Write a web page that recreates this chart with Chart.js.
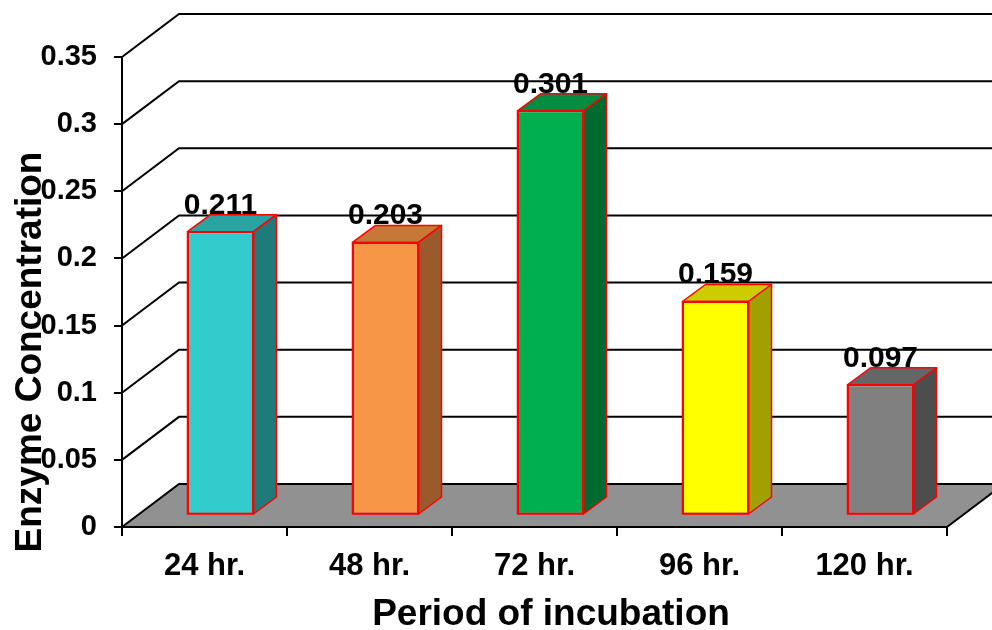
<!DOCTYPE html>
<html>
<head>
<meta charset="utf-8">
<script src="https://cdn.jsdelivr.net/npm/chart.js@4.4.1/dist/chart.umd.min.js"></script>
<style>
  html, body { margin: 0; padding: 0; background: #fff; overflow: hidden; }
  canvas { display: block; }
</style>
</head>
<body>
<canvas id="chart" width="992" height="630"></canvas>
<script>
// Enzyme concentration by incubation period
const periods = ['24 hr.', '48 hr.', '72 hr.', '96 hr.', '120 hr.'];
const enzymeConc = [0.211, 0.203, 0.301, 0.159, 0.097];
const yTickValues = [0, 0.05, 0.1, 0.15, 0.2, 0.25, 0.3, 0.35];
const yTickLabels = ['0', '0.05', '0.1', '0.15', '0.2', '0.25', '0.3', '0.35'];

// face colours of each box: front, top (lit) and side (shaded)
const frontColors = ['#33CCCC', '#F79646', '#00B050', '#FFFF00', '#808080'];
const topColors   = ['#29A3A3', '#C67838', '#008D40', '#CCCC00', '#666666'];
const sideColors  = ['#1F7A7A', '#9A5A2C', '#006A30', '#A0A000', '#4D4D4D'];

const FONT = '"Liberation Sans", Arial, Helvetica, sans-serif';
const WALL = { dx: 57, dy: -43 };      // depth of the back wall
const BAR_SHIFT = { dx: 16, dy: -12 }; // front faces of the boxes sit a little into the floor
const BAR_DEPTH = { dx: 23, dy: -17 }; // depth of each box

const box3d = {
  id: 'box3d',
  beforeDraw(chart) {
    const { ctx, chartArea: a, scales: { y } } = chart;
    ctx.save();
    ctx.fillStyle = '#fff';
    ctx.fillRect(0, 0, chart.width, chart.height);

    // floor
    const y0 = y.getPixelForValue(0);
    ctx.beginPath();
    ctx.moveTo(a.left, y0);
    ctx.lineTo(a.left + WALL.dx, y0 + WALL.dy);
    ctx.lineTo(a.right + WALL.dx, y0 + WALL.dy);
    ctx.lineTo(a.right, y0);
    ctx.closePath();
    ctx.fillStyle = '#919191';
    ctx.fill();

    ctx.strokeStyle = '#000';
    ctx.lineWidth = 2;
    ctx.beginPath();
    ctx.moveTo(a.right, y0);
    ctx.lineTo(a.right + WALL.dx, y0 + WALL.dy);
    ctx.stroke();

    // gridlines running along the side and back walls
    for (const v of yTickValues) {
      const py = y.getPixelForValue(v);
      ctx.beginPath();
      ctx.moveTo(a.left, py);
      ctx.lineTo(a.left + WALL.dx, py + WALL.dy);
      ctx.lineTo(a.right + WALL.dx + 20, py + WALL.dy);
      ctx.stroke();
    }
    ctx.restore();
  },
  beforeDatasetsDraw(chart) {
    chart.ctx.save();
    chart.ctx.translate(BAR_SHIFT.dx, BAR_SHIFT.dy);
  },
  afterDatasetsDraw(chart) {
    const ctx = chart.ctx;
    const meta = chart.getDatasetMeta(0);
    ctx.lineWidth = 1.5;
    ctx.strokeStyle = '#FF0000';
    ctx.lineJoin = 'round';
    meta.data.forEach((bar, i) => {
      const { x, y, base, width } = bar.getProps(['x', 'y', 'base', 'width'], true);
      const l = x - width / 2, r = x + width / 2;
      // top face
      ctx.beginPath();
      ctx.moveTo(l, y);
      ctx.lineTo(l + BAR_DEPTH.dx, y + BAR_DEPTH.dy);
      ctx.lineTo(r + BAR_DEPTH.dx, y + BAR_DEPTH.dy);
      ctx.lineTo(r, y);
      ctx.closePath();
      ctx.fillStyle = topColors[i];
      ctx.fill();
      ctx.stroke();
      // side face
      ctx.beginPath();
      ctx.moveTo(r, y);
      ctx.lineTo(r + BAR_DEPTH.dx, y + BAR_DEPTH.dy);
      ctx.lineTo(r + BAR_DEPTH.dx, base + BAR_DEPTH.dy);
      ctx.lineTo(r, base);
      ctx.closePath();
      ctx.fillStyle = sideColors[i];
      ctx.fill();
      ctx.stroke();
      // front outline
      ctx.strokeRect(l, y, width, base - y);
    });
    ctx.restore();
  },
  afterDraw(chart) {
    const ctx = chart.ctx;
    const meta = chart.getDatasetMeta(0);
    ctx.save();
    ctx.fillStyle = '#000';

    // value labels above the boxes
    ctx.font = 'bold 30px ' + FONT;
    ctx.textAlign = 'center';
    ctx.textBaseline = 'alphabetic';
    meta.data.forEach((bar, i) => {
      const { x, y } = bar.getProps(['x', 'y'], true);
      ctx.fillText(String(enzymeConc[i]), x + BAR_SHIFT.dx, y + BAR_SHIFT.dy - 18);
    });

    // axis titles
    ctx.font = 'bold 37px ' + FONT;
    ctx.fillText('Period of incubation', 551, 625);
    ctx.translate(41, 352);
    ctx.rotate(-Math.PI / 2);
    ctx.fillText('Enzyme Concentration', 0, 0);
    ctx.restore();
  }
};

new Chart(document.getElementById('chart'), {
  type: 'bar',
  data: {
    labels: periods,
    datasets: [{
      data: enzymeConc,
      backgroundColor: frontColors,
      borderColor: '#FF0000',
      borderWidth: 1.5,
      borderSkipped: false,
      barPercentage: 0.4,
      categoryPercentage: 1,
      clip: false
    }]
  },
  options: {
    responsive: false,
    devicePixelRatio: 1,
    animation: false,
    layout: { padding: { top: 57, right: 45, left: 0, bottom: 0 } },
    plugins: { legend: { display: false }, tooltip: { enabled: false } },
    scales: {
      x: {
        offset: true,
        grid: { offset: true, drawOnChartArea: false, drawTicks: true, tickLength: 9, color: '#000', lineWidth: 2 },
        border: { display: true, color: '#000', width: 2 },
        ticks: { color: '#000', padding: 12, font: { family: FONT, size: 31, weight: 'bold' } },
        afterFit(scale) { scale.height = 103; }
      },
      y: {
        min: 0,
        max: 0.35,
        afterBuildTicks(scale) { scale.ticks = yTickValues.map(v => ({ value: v })); },
        ticks: {
          color: '#000',
          padding: 17,
          font: { family: FONT, size: 29, weight: 'bold' },
          callback: (v, i) => yTickLabels[i]
        },
        grid: { drawOnChartArea: false, drawTicks: true, tickLength: 8, color: '#000', lineWidth: 2 },
        border: { display: true, color: '#000', width: 2 },
        afterFit(scale) { scale.width = 122; }
      }
    }
  },
  plugins: [box3d]
});
</script>
</body>
</html>
